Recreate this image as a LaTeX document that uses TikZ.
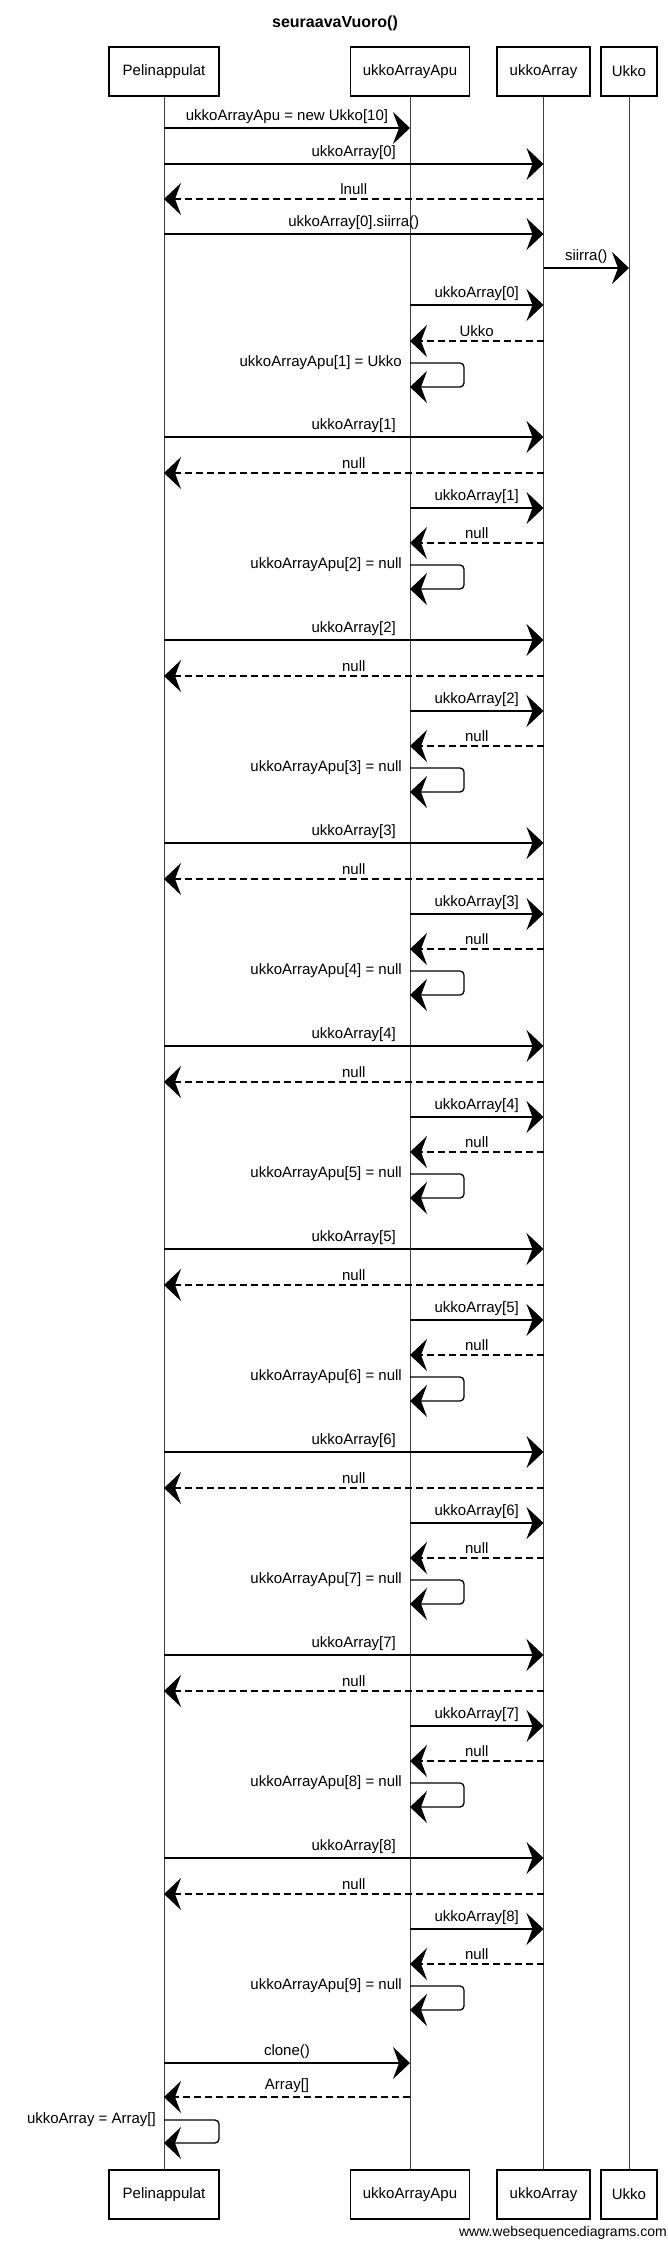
\documentclass[tikz,border=0pt]{standalone}
\usepackage{fontspec}
\setmainfont{Liberation Sans}
\usetikzlibrary{arrows.meta,positioning}

\begin{document}
\begin{tikzpicture}[x=1pt,y=-1pt,
  actor/.style={draw,line width=1.1pt,minimum width=#1,minimum height=49pt,inner sep=0pt,font=\fontsize{15}{18}\selectfont},
  life/.style={line width=0.9pt,black!75},
  msg/.style={line width=1.3pt,-{Stealth[length=17pt,width=32pt,inset=6pt]}},
  ret/.style={msg,dash pattern=on 7pt off 4pt},
  self/.style={msg,rounded corners=4pt},
  txt/.style={font=\fontsize{15}{18}\selectfont,inner sep=1pt}]
  \useasboundingbox (0,0) rectangle (667,2241);
  \node[font=\bfseries\fontsize{16}{19}\selectfont] (title) at (335,23) {seuraavaVuoro()};

  \node[actor=110pt] (pel) at (164,71.5) {Pelinappulat};
  \node[actor=119pt] (apu) at (410,71.5) {ukkoArrayApu};
  \node[actor=93pt] (arr) at (543.5,71.5) {ukkoArray};
  \node[actor=56pt] (ukko) at (629,71.5) {Ukko};

  \node[actor=110pt] (pelB) at (164,2194.5) {Pelinappulat};
  \node[actor=119pt] (apuB) at (410,2194.5) {ukkoArrayApu};
  \node[actor=93pt] (arrB) at (543.5,2194.5) {ukkoArray};
  \node[actor=56pt] (ukkoB) at (629,2194.5) {Ukko};

  \draw[life] (pel) -- (pelB);
  \draw[life] (apu) -- (apuB);
  \draw[life] (arr) -- (arrB);
  \draw[life] (ukko) -- (ukkoB);

  \draw[msg] (pel |- 0,128) -- node[txt,above=3pt] (m1) {ukkoArrayApu = new Ukko[10]} (apu |- 0,128);
  \draw[msg] (pel |- 0,164) -- node[txt,above=3pt] (m2) {ukkoArray[0]} (arr |- 0,164);
  \draw[ret] (arr |- 0,199) -- node[txt,above=3pt] (m3) {lnull} (pel |- 0,199);
  \draw[msg] (pel |- 0,234) -- node[txt,above=3pt] (m4) {ukkoArray[0].siirra()} (arr |- 0,234);
  \draw[msg] (arr |- 0,268) -- node[txt,above=3pt] (m5) {siirra()} (ukko |- 0,268);
  \draw[msg] (apu |- 0,305) -- node[txt,above=3pt] (m6) {ukkoArray[0]} (arr |- 0,305);
  \draw[ret] (arr |- 0,341) -- node[txt,above=3pt] (m7) {Ukko} (apu |- 0,341);
  \draw[self] (apu |- 0,363) -- ++(54,0) -- ++(0,24) -- (apu |- 0,387);
  \node[txt,anchor=east] (m8) at ([xshift=-7pt]apu |- 0,363) {ukkoArrayApu[1] = Ukko};

  \foreach \k in {1,...,8}{
    \pgfmathtruncatemacro\n{\k+1}
    \pgfmathsetmacro\ta{437+203*(\k-1)}
    \pgfmathsetmacro\tb{\ta+36}
    \pgfmathsetmacro\tc{\ta+71}
    \pgfmathsetmacro\td{\ta+106}
    \pgfmathsetmacro\te{\ta+128}
    \pgfmathsetmacro\tf{\ta+152}
    \draw[msg] (pel |- 0,\ta) -- node[txt,above=3pt] (a\k) {ukkoArray[\k]} (arr |- 0,\ta);
    \draw[ret] (arr |- 0,\tb) -- node[txt,above=3pt] (b\k) {null} (pel |- 0,\tb);
    \draw[msg] (apu |- 0,\tc) -- node[txt,above=3pt] (c\k) {ukkoArray[\k]} (arr |- 0,\tc);
    \draw[ret] (arr |- 0,\td) -- node[txt,above=3pt] (d\k) {null} (apu |- 0,\td);
    \draw[self] (apu |- 0,\te) -- ++(54,0) -- ++(0,24) -- (apu |- 0,\tf);
    \node[txt,anchor=east] (e\k) at ([xshift=-7pt]apu |- 0,\te) {ukkoArrayApu[\n] = null};
  }

  \draw[msg] (pel |- 0,2063) -- node[txt,above=3pt] (clone) {clone()} (apu |- 0,2063);
  \draw[ret] (apu |- 0,2097) -- node[txt,above=3pt] (arrret) {Array[]} (pel |- 0,2097);
  \draw[self] (pel |- 0,2120) -- ++(55,0) -- ++(0,23) -- (pel |- 0,2143);
  \node[txt,anchor=east] (assign) at ([xshift=-7pt]pel |- 0,2120) {ukkoArray = Array[]};

  \node[anchor=south east,inner sep=0pt,font=\fontsize{14}{16}\selectfont] (wsd) at (667,2240) {www.websequencediagrams.com};
\end{tikzpicture}
\end{document}
